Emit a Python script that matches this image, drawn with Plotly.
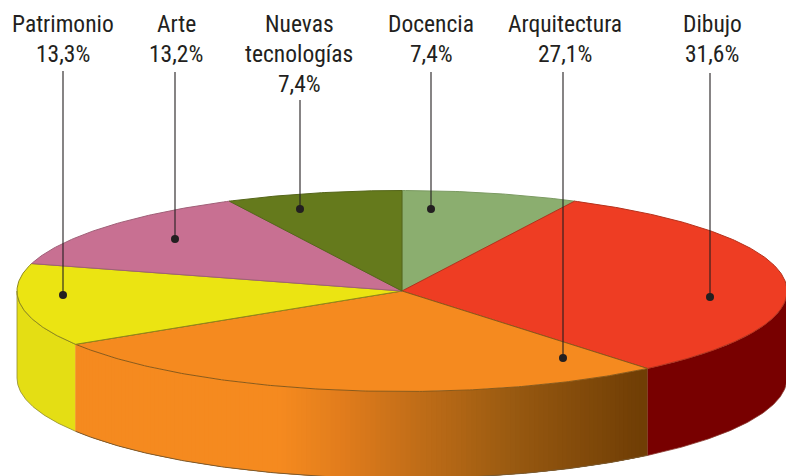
import math
import plotly.graph_objects as go

# Data, clockwise from the top of the pie
categories = ["Docencia", "Dibujo", "Arquitectura", "Patrimonio", "Arte", "Nuevas tecnologías"]
shares = [7.4, 31.6, 27.1, 13.3, 13.2, 7.4]
label_text = ["7,4%", "31,6%", "27,1%", "13,3%", "13,2%", "7,4%"]
label_lines = [["Docencia"], ["Dibujo"], ["Arquitectura"], ["Patrimonio"], ["Arte"], ["Nuevas", "tecnologías"]]

# Styles
top_colors = ["#8BAE6F", "#EE3D23", "#F58A1F", "#EBE412", "#C87092", "#657A1C"]
edge_colors = ["#7B9A62", "#B5321C", "#8A5A1A", "#8F8A1A", "#A06078", "#55661A"]
FONT = "Roboto Condensed, Roboto"
TEXT = "#231F20"

# Geometry in page pixels
CX, CY, RX, RY, DEPTH = 402, 291, 385, 100.5, 87
label_x = [431, 712, 565, 63, 176, 299]
leader_x = [431, 710, 563, 63, 175, 300]
leader_top = [72, 73, 72, 71, 72, 100]
leader_end = [209, 297, 358, 295, 239, 209]


def pt(deg, dy=0.0):
    t = math.radians(deg)
    return CX + RX * math.sin(t), CY - RY * math.cos(t) + dy


def arc(a, b, dy=0.0, step=0.5):
    n = max(2, int(abs(b - a) / step))
    return [pt(a + (b - a) * i / n, dy) for i in range(n + 1)]


def mix(stops, x):
    if x <= stops[0][0]:
        return stops[0][1]
    for (x0, c0), (x1, c1) in zip(stops, stops[1:]):
        if x <= x1:
            f = (x - x0) / (x1 - x0)
            rgb = [round(c0[i] + (c1[i] - c0[i]) * f) for i in range(3)]
            return tuple(rgb)
    return stops[-1][1]


grad = [(280, (245, 138, 31)), (340, (226, 125, 28)), (400, (200, 113, 25)),
        (520, (150, 88, 16)), (640, (112, 62, 5))]

fig = go.Figure()


def poly(points, fill, line=None, width=0.0):
    fig.add_trace(go.Scatter(
        x=[p[0] for p in points], y=[p[1] for p in points], mode="lines",
        fill="toself", fillcolor=fill, hoverinfo="skip",
        line=dict(color=line or fill, width=width)))


# Cumulative angles
angles = [0.0]
for s in shares:
    angles.append(angles[-1] + s / sum(shares) * 360)

# Side walls
a_dibujo, b_dibujo = angles[1], angles[2]
a_arq, b_arq = angles[2], angles[3]
a_pat, b_pat = angles[3], angles[4]

poly(arc(90, b_dibujo) + arc(b_dibujo, 90, DEPTH), "#780000", "#8A3A30", 0.8)
poly(arc(a_pat, 270) + arc(270, a_pat, DEPTH), "#E4DE14", "#8F8A30", 0.8)

# Orange wall: each strip overlaps the next one so no seams show
strip = 0.75
n = int((b_arq - a_arq) / strip)
for i in range(n):
    a = a_arq + (b_arq - a_arq) * i / n
    b = a_arq + (b_arq - a_arq) * (i + 1) / n
    b2 = min(b + 2 * strip, b_arq)
    col = "rgb(%d,%d,%d)" % mix(grad, pt((a + b) / 2)[0])
    poly(arc(a, b2, step=0.25) + arc(b2, a, DEPTH, step=0.25), col, col, 0.0)

edge = arc(a_arq, b_arq, DEPTH)
fig.add_trace(go.Scatter(x=[p[0] for p in edge], y=[p[1] for p in edge], mode="lines",
                         line=dict(color="#7A5A30", width=1), hoverinfo="skip"))

# Top faces
for i in range(len(shares)):
    poly([(CX, CY)] + arc(angles[i], angles[i + 1]) + [(CX, CY)],
         top_colors[i], edge_colors[i], 1.0)

# Leaders and dots
for x, y0, y1 in zip(leader_x, leader_top, leader_end):
    fig.add_trace(go.Scatter(x=[x, x], y=[y0, y1], mode="lines",
                             line=dict(color=TEXT, width=1.1), hoverinfo="skip"))
fig.add_trace(go.Scatter(x=leader_x, y=leader_end, mode="markers",
                         marker=dict(color=TEXT, size=8), hoverinfo="skip"))

# Labels, one annotation per line
LINE_TOP, LINE_STEP = 24, 29.8
for x, lines, pct in zip(label_x, label_lines, label_text):
    for k, s in enumerate(lines + [pct]):
        fig.add_annotation(x=x, y=LINE_TOP + k * LINE_STEP, text=s, showarrow=False,
                           xanchor="center", yanchor="middle",
                           font=dict(family=FONT, size=23.5, color=TEXT))

fig.update_layout(
    width=786, height=476, showlegend=False,
    margin=dict(l=0, r=0, t=0, b=0),
    paper_bgcolor="white", plot_bgcolor="white",
    xaxis=dict(range=[0, 786], visible=False, fixedrange=True),
    yaxis=dict(range=[476, 0], visible=False, fixedrange=True),
)
fig.write_html("out.html", config={"displayModeBar": False},
               post_script="document.body.style.margin='0';")
